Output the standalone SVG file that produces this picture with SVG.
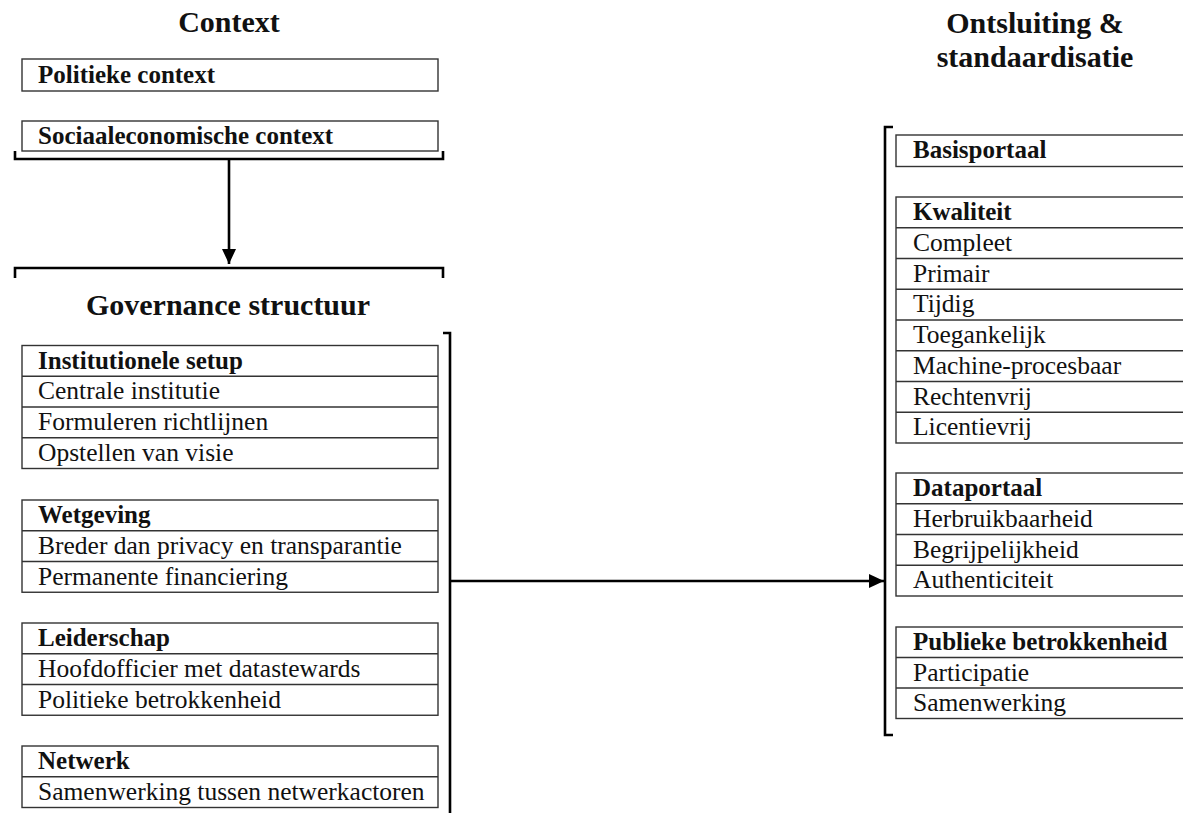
<svg xmlns="http://www.w3.org/2000/svg" width="1183" height="813" viewBox="0 0 1183 813">
<style>
text{font-family:"Liberation Serif","Times New Roman",serif;fill:#111}
.t{font-size:30px;font-weight:bold;text-anchor:middle}
.h{font-size:25px;font-weight:bold}
.r{font-size:25.5px}
.box{fill:#fff;stroke:#333;stroke-width:1.4}
.div{stroke:#333;stroke-width:1.4}
.br{fill:none;stroke:#000;stroke-width:2.6}
.ar{fill:none;stroke:#000;stroke-width:2.6}
</style>
<defs>
<marker id="ah" markerUnits="userSpaceOnUse" markerWidth="15" markerHeight="14" refX="15" refY="7" orient="auto">
<path d="M0,0 L15,7 L0,14 z" fill="#000"/>
</marker>
</defs>
<rect width="1183" height="813" fill="#fff"/>

<g id="title-context"><text class="t" x="229" y="32">Context</text></g>
<g id="title-governance"><text class="t" x="228" y="315">Governance structuur</text></g>
<g id="title-ontsluiting"><text class="t" x="1035" y="33">Ontsluiting &amp;</text><text class="t" x="1035" y="67">standaardisatie</text></g>

<g id="politieke-context">
<rect class="box" x="22" y="59" width="416" height="32"/>
<text class="h" x="38" y="83">Politieke context</text>
</g>
<g id="sociaaleconomische-context">
<rect class="box" x="22" y="121" width="416" height="30"/>
<text class="h" x="38" y="144">Sociaaleconomische context</text>
</g>

<g id="institutionele-setup">
<rect class="box" x="22" y="345.5" width="416" height="123"/>
<line class="div" x1="22" y1="376.25" x2="438" y2="376.25"/>
<line class="div" x1="22" y1="407" x2="438" y2="407"/>
<line class="div" x1="22" y1="437.75" x2="438" y2="437.75"/>
<text class="h" x="38" y="368.5">Institutionele setup</text>
<text class="r" x="38" y="399.25">Centrale institutie</text>
<text class="r" x="38" y="430">Formuleren richtlijnen</text>
<text class="r" x="38" y="460.75">Opstellen van visie</text>
</g>

<g id="wetgeving">
<rect class="box" x="22" y="500" width="416" height="92.25"/>
<line class="div" x1="22" y1="530.75" x2="438" y2="530.75"/>
<line class="div" x1="22" y1="561.5" x2="438" y2="561.5"/>
<text class="h" x="38" y="523">Wetgeving</text>
<text class="r" x="38" y="553.75">Breder dan privacy en transparantie</text>
<text class="r" x="38" y="584.5">Permanente financiering</text>
</g>

<g id="leiderschap">
<rect class="box" x="22" y="623" width="416" height="92.25"/>
<line class="div" x1="22" y1="653.75" x2="438" y2="653.75"/>
<line class="div" x1="22" y1="684.5" x2="438" y2="684.5"/>
<text class="h" x="38" y="646">Leiderschap</text>
<text class="r" x="38" y="676.75">Hoofdofficier met datastewards</text>
<text class="r" x="38" y="707.5">Politieke betrokkenheid</text>
</g>

<g id="netwerk">
<rect class="box" x="22" y="746" width="416" height="61.5"/>
<line class="div" x1="22" y1="776.75" x2="438" y2="776.75"/>
<text class="h" x="38" y="769">Netwerk</text>
<text class="r" x="38" y="799.75">Samenwerking tussen netwerkactoren</text>
</g>

<g id="basisportaal">
<rect class="box" x="896" y="135" width="300" height="31.5"/>
<text class="h" x="913" y="158">Basisportaal</text>
</g>

<g id="kwaliteit">
<rect class="box" x="896" y="197" width="300" height="246"/>
<line class="div" x1="896" y1="227.75" x2="1196" y2="227.75"/>
<line class="div" x1="896" y1="258.5" x2="1196" y2="258.5"/>
<line class="div" x1="896" y1="289.25" x2="1196" y2="289.25"/>
<line class="div" x1="896" y1="320" x2="1196" y2="320"/>
<line class="div" x1="896" y1="350.75" x2="1196" y2="350.75"/>
<line class="div" x1="896" y1="381.5" x2="1196" y2="381.5"/>
<line class="div" x1="896" y1="412.25" x2="1196" y2="412.25"/>
<text class="h" x="913" y="220">Kwaliteit</text>
<text class="r" x="913" y="250.75">Compleet</text>
<text class="r" x="913" y="281.5">Primair</text>
<text class="r" x="913" y="312.25">Tijdig</text>
<text class="r" x="913" y="343">Toegankelijk</text>
<text class="r" x="913" y="373.75">Machine-procesbaar</text>
<text class="r" x="913" y="404.5">Rechtenvrij</text>
<text class="r" x="913" y="435.25">Licentievrij</text>
</g>

<g id="dataportaal">
<rect class="box" x="896" y="473" width="300" height="123"/>
<line class="div" x1="896" y1="503.75" x2="1196" y2="503.75"/>
<line class="div" x1="896" y1="534.5" x2="1196" y2="534.5"/>
<line class="div" x1="896" y1="565.25" x2="1196" y2="565.25"/>
<text class="h" x="913" y="496">Dataportaal</text>
<text class="r" x="913" y="526.75">Herbruikbaarheid</text>
<text class="r" x="913" y="557.5">Begrijpelijkheid</text>
<text class="r" x="913" y="588.25">Authenticiteit</text>
</g>

<g id="publieke-betrokkenheid">
<rect class="box" x="896" y="627" width="300" height="91.5"/>
<line class="div" x1="896" y1="657.5" x2="1196" y2="657.5"/>
<line class="div" x1="896" y1="688" x2="1196" y2="688"/>
<text class="h" x="913" y="650">Publieke betrokkenheid</text>
<text class="r" x="913" y="680.5">Participatie</text>
<text class="r" x="913" y="711">Samenwerking</text>
</g>

<g id="connectors">
<path class="br" d="M15,151 V159 H443 V151"/>
<path class="br" d="M15,278 V268 H443 V278"/>
<path class="br" d="M443,333 H450 V815"/>
<path class="br" d="M893,127 H885 V735 H893"/>
<line class="ar" x1="229" y1="159" x2="229" y2="264" marker-end="url(#ah)"/>
<line class="ar" x1="450" y1="581" x2="884" y2="581" marker-end="url(#ah)"/>
</g>
</svg>
